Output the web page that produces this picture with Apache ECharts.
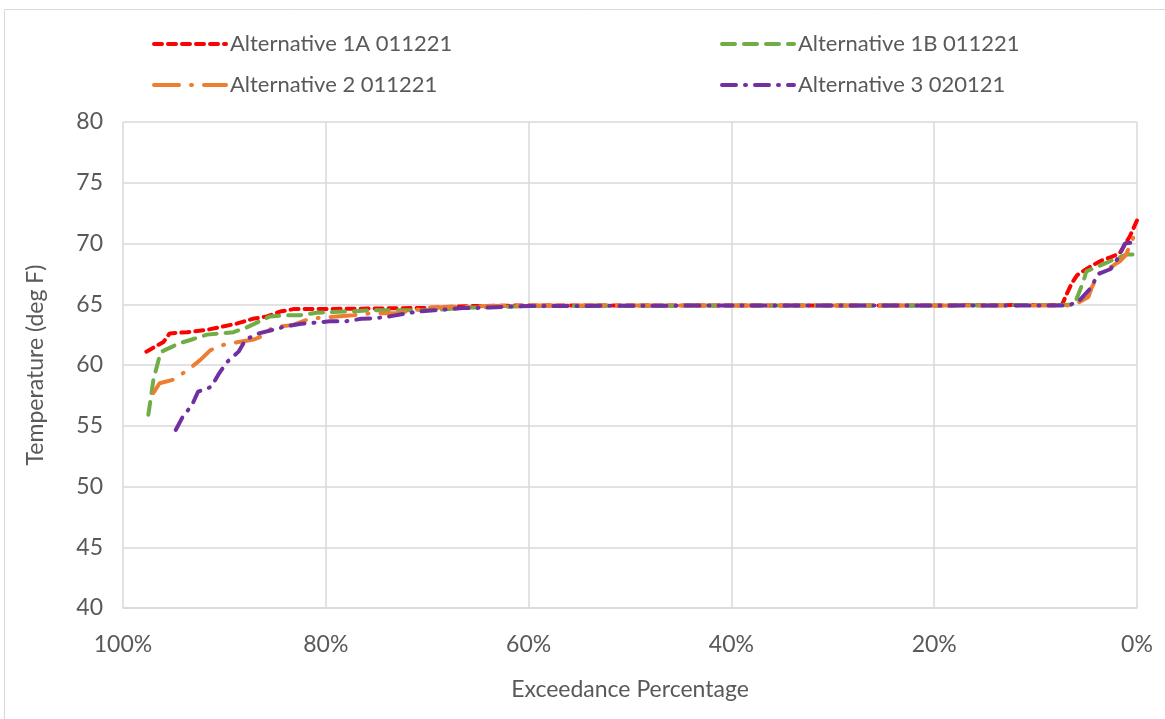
<!DOCTYPE html>
<html>
<head>
<meta charset="utf-8">
<script src="https://cdn.jsdelivr.net/npm/echarts@6/dist/echarts.min.js"></script>
<style>
html,body{margin:0;padding:0;background:#fff;}
#c{width:1165px;height:719px;}
</style>
</head>
<body>
<div id="c"></div>
<script>
const seriesNames = ['Alternative 1A 011221','Alternative 1B 011221','Alternative 2 011221','Alternative 3 020121'];
const xTicks = [100,80,60,40,20,0];
const yTicks = [40,45,50,55,60,65,70,75,80];

const alt1A = [[97.7,61.1],[96.0,61.9],[95.4,62.6],[93.7,62.7],[91.7,62.9],[88.8,63.4],[87.2,63.8],[85.8,64.0],[84.5,64.4],[83.2,64.6],[80.9,64.6],[75,64.65],[70,64.7],[66,64.85],[60,64.9],[40,64.9],[20,64.9],[7.4,64.95],[6.9,65.9],[6.45,66.7],[5.9,67.4],[4.6,68.1],[3.5,68.6],[2.5,68.9],[1.7,69.2],[0.7,70.6],[0,71.9]];
const alt1B = [[97.5,55.9],[97.0,58.8],[96.5,60.4],[96.2,61.1],[94.4,61.8],[93.2,62.1],[91.7,62.5],[90.4,62.6],[89.1,62.7],[87.8,63.1],[86.5,63.6],[85.5,64.0],[83.9,64.1],[82.5,64.1],[80.9,64.3],[78,64.4],[75.4,64.5],[69.5,64.5],[66.5,64.7],[64,64.75],[60,64.85],[40,64.9],[20,64.9],[6.3,64.95],[6.0,65.35],[5.3,66.85],[5.0,67.7],[3.6,68.2],[2.5,68.6],[1.0,69.1],[0,69.1]];
const alt2 = [[97.0,57.7],[96.4,58.5],[95.0,58.8],[93.6,59.6],[92.4,60.4],[91.4,61.2],[90.4,61.6],[88.6,61.9],[87.1,62.1],[86.5,62.3],[85.2,63.1],[84.2,63.2],[83.2,63.3],[81.6,63.8],[78.9,64.0],[77.3,64.1],[75.6,64.25],[73,64.25],[70,64.7],[67,64.8],[60,64.9],[40,64.9],[20,64.9],[6.3,64.9],[4.8,65.6],[4.5,66.3],[3.8,67.5],[2.5,68.1],[1.6,68.6],[1.1,69.05],[0.6,70],[0,71.2]];
const alt3 = [[94.8,54.65],[94.1,55.75],[93.2,56.7],[92.6,57.8],[91.3,58.2],[90.6,59.2],[89.8,60.2],[88.6,61.1],[87.9,62.1],[86.6,62.6],[85.2,62.9],[83.9,63.2],[82.4,63.4],[80.8,63.5],[79.6,63.6],[78,63.6],[76.5,63.8],[75.1,63.85],[73.7,64.0],[72,64.25],[70.9,64.4],[69.4,64.5],[67.8,64.6],[66.5,64.7],[65,64.7],[62,64.8],[60,64.85],[40,64.9],[20,64.9],[6.8,64.9],[5.8,65.2],[4.6,66.3],[3.8,67.5],[2.6,67.9],[1.8,68.9],[1.2,70],[0,70.15]];

const FONT = 'Lato';
const TXT = '#595959';
const GRIDC = '#d9d9d9';

function mk(name, data, color, dash) {
  return {
    name: name, type: 'line', data: data, symbol: 'none', smooth: false,
    lineStyle: {color: color, width: 4, type: dash, cap: 'round'},
    itemStyle: {color: color},
    emphasis: {disabled: true}
  };
}

const legendCommon = {
  orient: 'vertical', top: 32, padding: 0, itemWidth: 72, itemHeight: 14, itemGap: 17,
  itemStyle: {opacity: 0},
  lineStyle: {width: 4},
  textStyle: {fontFamily: FONT, fontSize: 22, color: TXT, lineHeight: 24, padding: [0,0,0,-1]}
};

const chart = echarts.init(document.getElementById('c'), null, {renderer: 'canvas'});
chart.setOption({
  animation: false,
  backgroundColor: '#fff',
  graphic: [{type: 'rect', left: 2, top: 7, shape: {x: 0, y: 0, width: 1200, height: 730}, style: {fill: 'none', stroke: GRIDC, lineWidth: 1}, silent: true}],
  legend: [
    Object.assign({data: [seriesNames[0], seriesNames[2]], left: 152}, legendCommon),
    Object.assign({data: [seriesNames[1], seriesNames[3]], left: 720}, legendCommon)
  ],
  grid: {left: 123, right: 28, top: 122, bottom: 111, containLabel: false},
  xAxis: {
    type: 'value', inverse: true, min: 0, max: 100, interval: 20,
    name: 'Exceedance Percentage', nameLocation: 'middle', nameGap: 70,
    nameTextStyle: {fontFamily: FONT, fontSize: 23, color: TXT},
    axisLine: {show: true, lineStyle: {color: GRIDC, width: 1.5}},
    axisTick: {show: false},
    axisLabel: {formatter: '{value}%', fontFamily: FONT, fontSize: 23, color: TXT, margin: 25},
    splitLine: {show: true, lineStyle: {color: GRIDC, width: 1.5}}
  },
  yAxis: {
    type: 'value', min: 40, max: 80, interval: 5,
    name: 'Temperature (deg F)', nameLocation: 'middle', nameGap: 76, nameRotate: 90,
    nameTextStyle: {fontFamily: FONT, fontSize: 23, color: TXT},
    axisLine: {show: false}, axisTick: {show: false},
    axisLabel: {fontFamily: FONT, fontSize: 23, color: TXT, margin: 20},
    splitLine: {show: true, lineStyle: {color: GRIDC, width: 1.5}}
  },
  series: [
    mk(seriesNames[0], alt1A, '#FF0000', [8, 6]),
    mk(seriesNames[1], alt1B, '#70AD47', [13, 9]),
    mk(seriesNames[2], alt2, '#ED7D31', [25, 12, 1, 12]),
    mk(seriesNames[3], alt3, '#7030A0', [14, 9, 1, 9])
  ]
});
</script>
</body>
</html>
